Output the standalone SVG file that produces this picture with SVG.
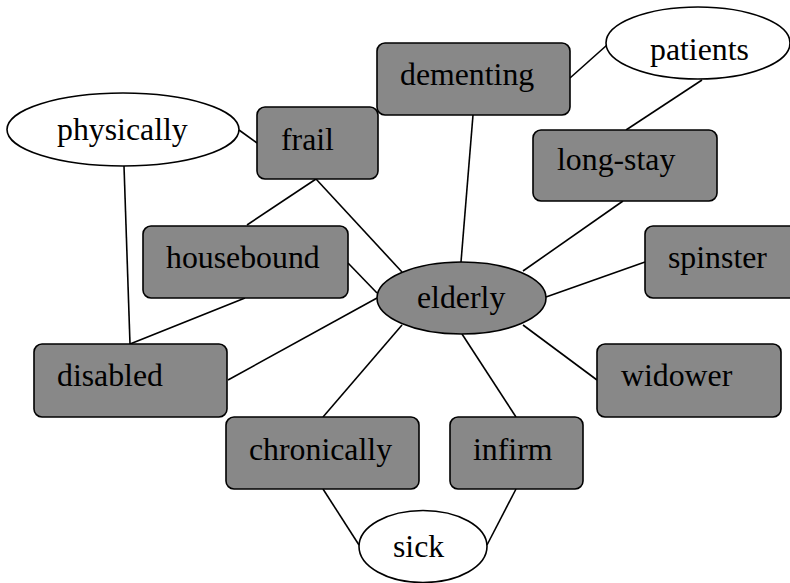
<svg xmlns="http://www.w3.org/2000/svg" width="790" height="583" viewBox="0 0 790 583">
<style>
.box{fill:#888888;stroke:#000;stroke-width:1.6}
.ell{fill:#fff;stroke:#000;stroke-width:1.6}
.ell-g{fill:#888888;stroke:#000;stroke-width:1.6}
.lbl{font-family:"Liberation Serif","Times New Roman",serif;font-size:31.8px;fill:#000}
.edge{stroke:#000;stroke-width:1.6;fill:none}
</style>
<rect width="790" height="583" fill="#fff"/>
<g id="connectors">
<line class="edge" x1="239" y1="130" x2="257" y2="143"/>
<line class="edge" x1="124" y1="166" x2="130" y2="344"/>
<line class="edge" x1="316" y1="179" x2="247" y2="225"/>
<line class="edge" x1="316" y1="179" x2="402" y2="272"/>
<line class="edge" x1="348" y1="263" x2="377" y2="293"/>
<line class="edge" x1="245" y1="298" x2="130" y2="344"/>
<line class="edge" x1="228" y1="380" x2="377" y2="298"/>
<line class="edge" x1="323" y1="417" x2="402" y2="325"/>
<line class="edge" x1="516" y1="417" x2="462" y2="334"/>
<line class="edge" x1="473" y1="115" x2="461" y2="262"/>
<line class="edge" x1="570" y1="78" x2="607" y2="45"/>
<line class="edge" x1="702" y1="80" x2="626" y2="130"/>
<line class="edge" x1="623" y1="201" x2="523" y2="271"/>
<line class="edge" x1="645" y1="262" x2="546" y2="297"/>
<line class="edge" x1="597" y1="380" x2="523" y2="325"/>
<line class="edge" x1="323" y1="489" x2="359" y2="545"/>
<line class="edge" x1="516" y1="489" x2="487" y2="545"/>
</g>
<g id="physically"><ellipse class="ell" cx="123" cy="129.5" rx="116" ry="36.5"/><text class="lbl" x="57" y="140">physically</text></g>
<g id="frail"><rect class="box" x="257" y="107" width="121" height="72" rx="8"/><text class="lbl" x="281" y="150">frail</text></g>
<g id="dementing"><rect class="box" x="377" y="43" width="193" height="72" rx="8"/><text class="lbl" x="400" y="85">dementing</text></g>
<g id="patients"><ellipse class="ell" cx="698" cy="43" rx="92" ry="36"/><text class="lbl" x="650" y="60">patients</text></g>
<g id="long-stay"><rect class="box" x="533" y="130" width="184" height="71" rx="8"/><text class="lbl" x="557" y="170">long-stay</text></g>
<g id="housebound"><rect class="box" x="143" y="226" width="205" height="72" rx="8"/><text class="lbl" x="166" y="268">housebound</text></g>
<g id="spinster"><rect class="box" x="645" y="226" width="152" height="72" rx="8"/><text class="lbl" x="668" y="268">spinster</text></g>
<g id="elderly"><ellipse class="ell-g" cx="461.5" cy="298" rx="84.5" ry="36"/><text class="lbl" x="417" y="308">elderly</text></g>
<g id="disabled"><rect class="box" x="34" y="344" width="193" height="73" rx="8"/><text class="lbl" x="57" y="386">disabled</text></g>
<g id="widower"><rect class="box" x="597" y="344" width="184" height="73" rx="8"/><text class="lbl" x="621" y="386">widower</text></g>
<g id="chronically"><rect class="box" x="226" y="417" width="193" height="72" rx="8"/><text class="lbl" x="249" y="460">chronically</text></g>
<g id="infirm"><rect class="box" x="450" y="417" width="133" height="72" rx="8"/><text class="lbl" x="473" y="460">infirm</text></g>
<g id="sick"><ellipse class="ell" cx="423" cy="546.5" rx="64" ry="36"/><text class="lbl" x="393" y="557">sick</text></g>
</svg>
